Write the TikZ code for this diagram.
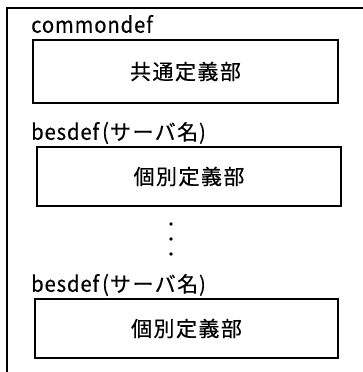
\documentclass[tikz,border=0pt]{standalone}
\usepackage{fontspec}
\setmainfont[LetterSpace=7,FakeBold=0.4]{Noto Sans CJK JP}
\newfontfamily\latfont[FakeStretch=0.92,LetterSpace=4,FakeBold=0.4]{Noto Sans CJK JP}
\usetikzlibrary{positioning}

\begin{document}
\begin{tikzpicture}[x=1pt,y=-1pt,
    every node/.style={font=\fontsize{21}{25}\selectfont,inner sep=0pt},
    defbox/.style={draw,line width=1.3pt,minimum width=304pt,minimum height=59pt},
    tag/.style={anchor=west,font=\fontsize{22}{26}\selectfont\latfont}]
    \useasboundingbox (0,0) rectangle (363,372);
    \draw[line width=1.3pt] (7,390) |- (380,8);
    \node[tag] (commontag) at (31,24) {commondef};
    \node[defbox,minimum width=305pt,minimum height=63pt] (commonbox) at (185.5,71.5) {共通定義部};
    \node[tag] (bestag1) at (31,133) {besdef\kern3pt(\fontsize{21}{25}\normalfont\kern1pt サーバ名\kern1pt\latfont)};
    \node[defbox] (besbox1) at (189,176.5) {個別定義部};
    \foreach \y in {224,239,254}
      \fill (171,\y) circle (1.8pt);
    \node[tag] (bestag2) at (31,285) {besdef\kern3pt(\fontsize{21}{25}\normalfont\kern1pt サーバ名\kern1pt\latfont)};
    \node[defbox,minimum width=303pt] (besbox2) at (186.5,328.5) {個別定義部};
  \end{tikzpicture}
\end{document}
